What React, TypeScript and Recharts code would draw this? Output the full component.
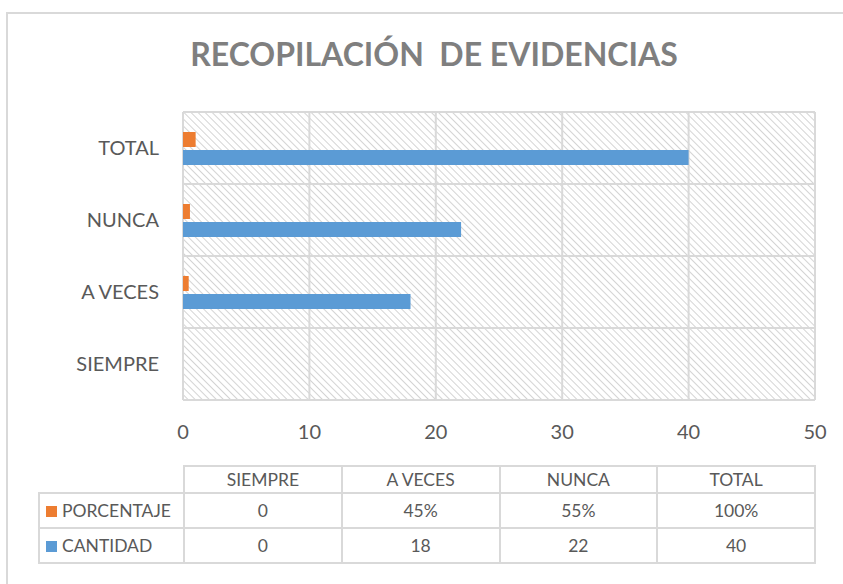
import React from "react"
import { BarChart, Bar, XAxis, YAxis, CartesianGrid } from "recharts"

const categories = ["SIEMPRE", "A VECES", "NUNCA", "TOTAL"]
const porcentaje = [0, 0.45, 0.55, 1]
const cantidad = [0, 18, 22, 40]
const xTicks = [0, 10, 20, 30, 40, 50]

const ORANGE = "#ED7D31"
const BLUE = "#5B9BD5"
const GRID = "#d9d9d9"
const TEXT = "#595959"
const FONT = "Lato, 'Open Sans', sans-serif"

const data = categories.map((name, i) => ({
  name,
  porcentaje: porcentaje[i],
  cantidad: cantidad[i],
}))

const fmtPct = (v: number) => (v === 0 ? "0" : `${Math.round(v * 100)}%`)

const cell: React.CSSProperties = {
  border: `2px solid ${GRID}`,
  textAlign: "center",
  padding: 0,
  color: TEXT,
}

export default function App() {
  return (
    <div style={{ position: "absolute", left: 0, top: 0, width: 843, height: 584, overflow: "hidden", background: "#fff", fontFamily: FONT }}>
      <div style={{ position: "absolute", left: 6, top: 12, width: 860, height: 620, border: `2px solid ${GRID}` }} />
      <div style={{ position: "absolute", left: 0, top: 34, width: 868, textAlign: "center", fontSize: 32, fontWeight: 700, color: "#7f7f7f", whiteSpace: "pre" }}>
        {"RECOPILACIÓN  DE EVIDENCIAS"}
      </div>
      <div style={{ position: "absolute", left: 0, top: 0 }}>
        <BarChart
          width={843}
          height={584}
          data={data}
          layout="vertical"
          margin={{ top: 112, right: 28, bottom: 154, left: 23 }}
          barGap={3}
        >
          <defs>
            <pattern id="hatch" patternUnits="userSpaceOnUse" width={5} height={5} patternTransform="rotate(-45)">
              <line x1={0} y1={0} x2={0} y2={5} stroke="#cfcfcf" strokeWidth={1.8} />
            </pattern>
          </defs>
          <CartesianGrid
            fill="url(#hatch)"
            fillOpacity={1}
            stroke={GRID}
            strokeWidth={2}
            horizontalCoordinatesGenerator={({ offset }: any) =>
              categories.map((_, i) => offset.top + (i * offset.height) / categories.length).concat([offset.top + offset.height])
            }
          />
          <XAxis
            type="number"
            domain={[0, 50]}
            ticks={xTicks}
            interval={0}
            height={30}
            axisLine={false}
            tickLine={false}
            tickSize={0}
            tickMargin={25}
            tick={{ fontSize: 20, fill: TEXT, fontFamily: FONT }}
          />
          <YAxis
            type="category"
            dataKey="name"
            reversed
            width={160}
            axisLine={false}
            tickLine={false}
            tickSize={0}
            tickMargin={24}
            tick={{ fontSize: 20, fill: TEXT, fontFamily: FONT }}
          />
          <Bar dataKey="porcentaje" fill={ORANGE} barSize={15} isAnimationActive={false} />
          <Bar dataKey="cantidad" fill={BLUE} barSize={15} isAnimationActive={false} />
        </BarChart>
      </div>
      <table
        style={{
          position: "absolute",
          left: 38,
          top: 465,
          width: 778,
          borderCollapse: "collapse",
          tableLayout: "fixed",
          fontSize: 17.5,
          fontFamily: FONT,
        }}
      >
        <colgroup>
          <col style={{ width: 145 }} />
          {categories.map((c) => (
            <col key={c} />
          ))}
        </colgroup>
        <tbody>
          <tr style={{ height: 27 }}>
            <td style={{ border: "none" }} />
            {categories.map((c) => (
              <td key={c} style={cell}>{c}</td>
            ))}
          </tr>
          <tr style={{ height: 35 }}>
            <td style={{ ...cell, textAlign: "left", paddingLeft: 6, whiteSpace: "nowrap" }}>
              <span style={{ display: "inline-block", width: 11, height: 11, background: ORANGE, marginRight: 5 }} />
              PORCENTAJE
            </td>
            {porcentaje.map((v, i) => (
              <td key={i} style={cell}>{fmtPct(v)}</td>
            ))}
          </tr>
          <tr style={{ height: 35 }}>
            <td style={{ ...cell, textAlign: "left", paddingLeft: 6, whiteSpace: "nowrap" }}>
              <span style={{ display: "inline-block", width: 11, height: 11, background: BLUE, marginRight: 5 }} />
              CANTIDAD
            </td>
            {cantidad.map((v, i) => (
              <td key={i} style={cell}>{v}</td>
            ))}
          </tr>
        </tbody>
      </table>
    </div>
  )
}
